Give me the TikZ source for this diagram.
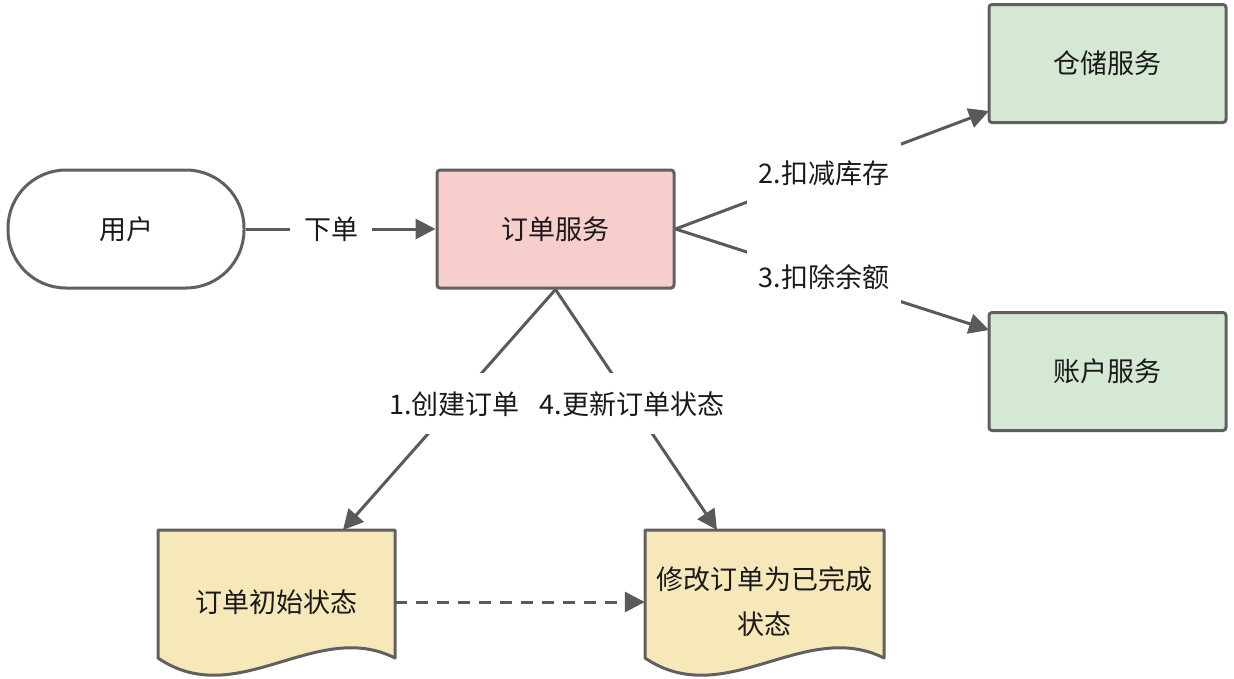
\documentclass[tikz,border=0pt]{standalone}
\usepackage{fontspec}
\setmainfont{Noto Sans CJK SC}
\usetikzlibrary{arrows.meta}
\definecolor{ln}{HTML}{5A5A5A}
\definecolor{bd}{HTML}{606060}
\definecolor{pinkc}{HTML}{F8CECC}
\definecolor{greenc}{HTML}{D5E8D4}
\definecolor{yellowc}{HTML}{F7E8BA}
\definecolor{txt}{HTML}{1A1A1A}
\begin{document}
\begin{tikzpicture}[x=1pt,y=-1pt,
  font=\fontsize{27}{45}\selectfont, text=txt,
  box/.style={draw=bd, line width=3pt, rounded corners=3pt, minimum width=237pt, minimum height=118pt, inner sep=0pt},
  term/.style={draw=bd, line width=3pt, fill=white, rounded corners=58pt, minimum width=236pt, minimum height=118pt, inner sep=0pt},
  docshape/.style={draw=bd, line width=3pt, fill=yellowc, line join=round},
  doctext/.style={minimum width=237pt, minimum height=100pt, inner sep=0pt, align=center},
  conn/.style={draw=ln, line width=3pt, -{Triangle[length=20pt,width=20pt]}},
  lbl/.style={fill=white, inner xsep=12pt, inner ysep=18pt}
]
\useasboundingbox (0,0) rectangle (1234,678);

% document shapes
\path[docshape] (158,530) -- (395,530) -- (395,658)
  .. controls (316,618) and (237,712) .. (158,658) -- cycle;
\path[docshape] (645,530) -- (884,530) -- (884,658)
  .. controls (804,618) and (725,712) .. (645,658) -- cycle;

\node[term] (user) at (126,229) {用户};
\node[box, fill=pinkc] (svc) at (555.5,229) {订单服务};
\node[box, fill=greenc] (wh) at (1107.5,63.5) {仓储服务};
\node[box, fill=greenc] (acc) at (1107.5,371.5) {账户服务};
\node[doctext] (d1) at (276.5,602) {订单初始状态};
\node[doctext, minimum width=239pt] (d2) at (764.5,602) {修改订单为已完成\\状态};

\coordinate (whin) at (989,111);
\coordinate (accin) at (989,330);
\coordinate (d1in) at (343,530);
\coordinate (d2in) at (717,530);

\draw[conn] (user.east) -- node[lbl, pos=0.45, inner xsep=14pt] {下单} (svc.west);
\draw[conn] (svc.east) -- node[lbl, pos=0.473] {2.扣减库存} (whin);
\draw[conn] (svc.east) -- node[lbl, pos=0.473] {3.扣除余额} (accin);
\draw[conn] (svc.south) -- node[lbl, pos=0.475] {1.创建订单} (d1in);
\draw[conn] (svc.south) -- node[lbl, pos=0.475] {4.更新订单状态} (d2in);
\draw[conn, dash pattern=on 12pt off 9pt] (d1.east) -- (d2.west);
\end{tikzpicture}
\end{document}
